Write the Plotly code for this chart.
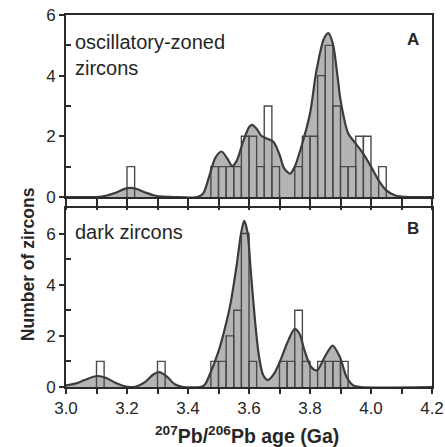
import plotly.graph_objects as go

# ---------------- data ----------------
BIN_W = 0.025

# Panel A: oscillatory-zoned zircons (histogram bins: left edge, count)
bins_A = [3.200, 3.475, 3.500, 3.525, 3.550, 3.575, 3.600, 3.625, 3.650, 3.675,
          3.750, 3.775, 3.800, 3.825, 3.850, 3.875, 3.900, 3.925, 3.950, 3.975, 4.025]
counts_A = [1, 1, 1, 1, 1, 2, 2, 1, 3, 1,
            1, 2, 2, 4, 5, 3, 1, 1, 2, 2, 1]

# Panel A probability curve
curve_A_age = [3.00, 3.10, 3.13, 3.16, 3.19, 3.21, 3.23, 3.26, 3.29, 3.32, 3.35, 3.43,
               3.45, 3.47, 3.49, 3.51, 3.53, 3.545, 3.56, 3.58, 3.60, 3.61, 3.625, 3.64,
               3.66, 3.68, 3.70, 3.715, 3.735, 3.75, 3.77, 3.80, 3.82, 3.845, 3.86, 3.875,
               3.89, 3.90, 3.925, 3.95, 3.975, 4.00, 4.025, 4.05, 4.08, 4.12, 4.20]
curve_A_val = [0, 0, 0.04, 0.13, 0.26, 0.30, 0.27, 0.15, 0.05, 0.01, 0, 0,
               0.12, 0.70, 1.30, 1.50, 1.25, 1.02, 1.20, 1.80, 2.30, 2.38, 2.25, 2.02,
               1.92, 1.82, 1.40, 0.95, 0.77, 1.00, 1.60, 2.75, 4.10, 5.20, 5.40, 5.05,
               4.00, 3.20, 2.10, 1.76, 1.42, 1.00, 0.55, 0.22, 0.05, 0, 0]

# Panel B: dark zircons
bins_B = [3.100, 3.300, 3.475, 3.500, 3.525, 3.550, 3.575, 3.600,
          3.700, 3.725, 3.750, 3.775, 3.825, 3.850, 3.875, 3.900]
counts_B = [1, 1, 1, 1, 2, 3, 6, 1,
            1, 1, 3, 1, 1, 1, 1, 1]

curve_B_age = [3.00, 3.03, 3.06, 3.09, 3.105, 3.13, 3.16, 3.19, 3.21, 3.23, 3.26, 3.285,
               3.305, 3.33, 3.355, 3.38, 3.44, 3.455, 3.47, 3.50, 3.52, 3.54, 3.56, 3.573,
               3.584, 3.595, 3.606, 3.62, 3.632, 3.646, 3.662, 3.68, 3.70, 3.728, 3.75,
               3.766, 3.782, 3.804, 3.823, 3.848, 3.874, 3.898, 3.92, 3.942, 3.965, 4.20]
curve_B_val = [0.06, 0.13, 0.27, 0.40, 0.43, 0.36, 0.18, 0.04, 0, 0.02, 0.20, 0.48,
               0.58, 0.42, 0.12, 0.01, 0, 0.09, 0.45, 1.39, 2.25, 3.30, 4.80, 5.94,
               6.50, 6.06, 4.50, 2.56, 1.26, 0.48, 0.27, 0.48, 0.95, 1.80, 2.27,
               2.07, 1.43, 0.78, 0.65, 1.17, 1.62, 1.17, 0.39, 0.06, 0, 0]

x_tick_labels = ["3.0", "3.2", "3.4", "3.6", "3.8", "4.0", "4.2"]

# ---------------- styling ----------------
FONT = "Liberation Sans, Arial, Helvetica, sans-serif"
FILL = "#b4b4b4"
LINE = "#3c3c3c"
BARLINE = "#4a4a4a"
AXC = "#2a2a2a"
TXT = "#262626"


def bar_path(starts, counts):
    xs, ys = [], []
    for s, c in zip(starts, counts):
        if c <= 0:
            continue
        xs += [s, s, s + BIN_W, s + BIN_W, None]
        ys += [0, c, c, 0, None]
    return xs, ys


fig = go.Figure()

for ages, vals, starts, counts, xa, ya in [
    (curve_A_age, curve_A_val, bins_A, counts_A, "x", "y"),
    (curve_B_age, curve_B_val, bins_B, counts_B, "x2", "y2"),
]:
    fig.add_trace(go.Scatter(x=ages, y=vals, mode="lines", fill="tozeroy",
                             fillcolor=FILL, line=dict(width=0, shape="spline", smoothing=0.8),
                             xaxis=xa, yaxis=ya, hoverinfo="skip"))
    bx, by = bar_path(starts, counts)
    fig.add_trace(go.Scatter(x=bx, y=by, mode="lines",
                             line=dict(color=BARLINE, width=1.4),
                             xaxis=xa, yaxis=ya, hoverinfo="skip"))
    fig.add_trace(go.Scatter(x=ages, y=vals, mode="lines",
                             line=dict(color=LINE, width=2.2, shape="spline", smoothing=0.8),
                             xaxis=xa, yaxis=ya, hoverinfo="skip"))

x_ticks_all = [round(3.0 + 0.1 * i, 1) for i in range(13)]
x_major = [round(3.0 + 0.2 * i, 1) for i in range(7)]

common_axis = dict(showline=True, linecolor=AXC, linewidth=2, mirror=True,
                   showgrid=False, zeroline=False, tickcolor=AXC, tickwidth=1.5,
                   automargin=False,
                   tickfont=dict(family=FONT, size=17, color=TXT))

fig.update_layout(
    width=445, height=447,
    margin=dict(l=66, r=13, t=15, b=60, autoexpand=False),
    paper_bgcolor="white", plot_bgcolor="white",
    showlegend=False,
    xaxis=dict(domain=[0, 1], anchor="y", range=[3.0, 4.2], tickvals=x_ticks_all,
               showticklabels=False, ticks="outside", ticklen=11, **common_axis),
    yaxis=dict(domain=[0.5108, 1], anchor="x", range=[0, 6], tickvals=[0, 2, 4, 6],
               ticks="outside", ticklen=5,
               minor=dict(tickvals=[1, 3, 5], ticks="inside", ticklen=5,
                          tickcolor=AXC, tickwidth=1.5),
               **common_axis),
    xaxis2=dict(domain=[0, 1], anchor="y2", range=[3.0, 4.2], tickvals=x_major,
                ticktext=x_tick_labels, ticks="outside", ticklen=5,
                minor=dict(tickvals=x_ticks_all, ticks="outside", ticklen=5,
                           tickcolor=AXC, tickwidth=1.5),
                **common_axis),
    yaxis2=dict(domain=[0, 0.4812], anchor="x2", range=[0, 7], tickvals=[0, 2, 4, 6],
                ticks="outside", ticklen=5,
                minor=dict(tickvals=[1, 3, 5], ticks="inside", ticklen=5,
                           tickcolor=AXC, tickwidth=1.5),
                **common_axis),
)

annots = [
    dict(text="oscillatory-zoned<br>zircons", x=0.018, y=0.962, xanchor="left", yanchor="top",
         align="left", font=dict(family=FONT, size=20, color=TXT)),
    dict(text="dark zircons", x=0.018, y=0.452, xanchor="left", yanchor="top",
         align="left", font=dict(family=FONT, size=20, color=TXT)),
    dict(text="<b>A</b>", x=0.949, y=0.935, xanchor="center", yanchor="middle",
         font=dict(family=FONT, size=17, color=TXT)),
    dict(text="<b>B</b>", x=0.949, y=0.426, xanchor="center", yanchor="middle",
         font=dict(family=FONT, size=17, color=TXT)),
    dict(text="<b>Number of zircons</b>", x=-0.104, y=0.33, xanchor="center", yanchor="middle",
         textangle=-90, font=dict(family=FONT, size=17.5, color=TXT)),
    dict(text="<b><sup>207</sup>Pb/<sup>206</sup>Pb age (Ga)</b>", x=0.4945, y=-0.128,
         xanchor="center", yanchor="middle", font=dict(family=FONT, size=19.5, color=TXT)),
]
for a in annots:
    a.update(xref="paper", yref="paper", showarrow=False)
fig.update_layout(annotations=annots)

fig.write_html("out.html", config={"displayModeBar": False},
               post_script="document.body.style.margin='0';document.body.style.overflow='hidden';")
